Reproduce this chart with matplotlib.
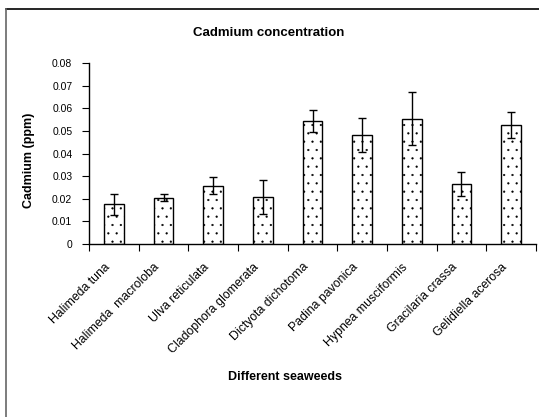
import matplotlib
matplotlib.use("Agg")
import matplotlib.pyplot as plt
from matplotlib.lines import Line2D
from matplotlib.transforms import blended_transform_factory, ScaledTranslation
import numpy as np

species = ["Halimeda tuna", "Halimeda  macroloba", "Ulva reticulata", "Cladophora glomerata",
           "Dictyota dichotoma", "Padina pavonica", "Hypnea musciformis", "Gracilaria crassa",
           "Gelidiella acerosa"]
cadmium = [0.0175, 0.0205, 0.0258, 0.0206, 0.0544, 0.0481, 0.0553, 0.0264, 0.0527]
errors = [0.0048, 0.0016, 0.0037, 0.0075, 0.0047, 0.0074, 0.0117, 0.0053, 0.0057]
yticks = [0, 0.01, 0.02, 0.03, 0.04, 0.05, 0.06, 0.07, 0.08]
ytick_labels = ["0", "0.01", "0.02", "0.03", "0.04", "0.05", "0.06", "0.07", "0.08"]

plt.rcParams['font.family'] = ['Liberation Sans', 'DejaVu Sans']
plt.rcParams['hatch.color'] = '#8a8a8a'
plt.rcParams['hatch.linewidth'] = 0.35

W, H = 539, 417
fig = plt.figure(figsize=(W / 100, H / 100), dpi=100)
ax = fig.add_axes([89 / W, (H - 244) / H, (536 - 89) / W, (244 - 63) / H])

x = np.arange(len(species))
ax.bar(x, cadmium, width=0.39, color='white', edgecolor='black', linewidth=1.0,
       hatch='..', yerr=errors, capsize=3,
       error_kw=dict(ecolor='black', elinewidth=1.0, capthick=1.0))

ax.set_xlim(-0.5, len(species) - 0.5)
ax.set_ylim(0, 0.08)
ax.set_yticks(yticks)
ax.set_yticklabels(ytick_labels, fontsize=7.5)
ax.set_xticks(np.arange(len(species) + 1) - 0.5)
ax.set_xticklabels([])
ax.tick_params(axis='both', direction='out', length=5, width=0.8, color='black')
ax.tick_params(axis='y', pad=7)
for s in ['top', 'right']:
    ax.spines[s].set_visible(False)
for s in ['left', 'bottom']:
    ax.spines[s].set_linewidth(1.0)

trans = blended_transform_factory(ax.transData, ax.transAxes) + \
    ScaledTranslation(-10 / 100, -17 / 100, fig.dpi_scale_trans)
for i, name in enumerate(species):
    ax.text(i, 0, name, transform=trans, rotation=45, ha='right', va='top',
            rotation_mode='anchor', fontsize=8.8)

fig.text(269 / W, 1 - 33 / H, "Cadmium concentration", ha='center', va='center',
         fontsize=9.5, fontweight='bold')
fig.text(29 / W, 1 - 160 / H, "Cadmium (ppm)", ha='center', va='center',
         rotation=90, fontsize=9, fontweight='bold')
fig.text(285 / W, 1 - 377 / H, "Different seaweeds", ha='center', va='center',
         fontsize=9, fontweight='bold')

fig.add_artist(Line2D([6 / W, 1], [1 - 8.5 / H, 1 - 8.5 / H], transform=fig.transFigure,
                      color='black', linewidth=1.2))
fig.add_artist(Line2D([6 / W, 6 / W], [1 - 8.5 / H, 0], transform=fig.transFigure,
                      color='#666666', linewidth=1.2))

fig.savefig("out.png", dpi=100)
